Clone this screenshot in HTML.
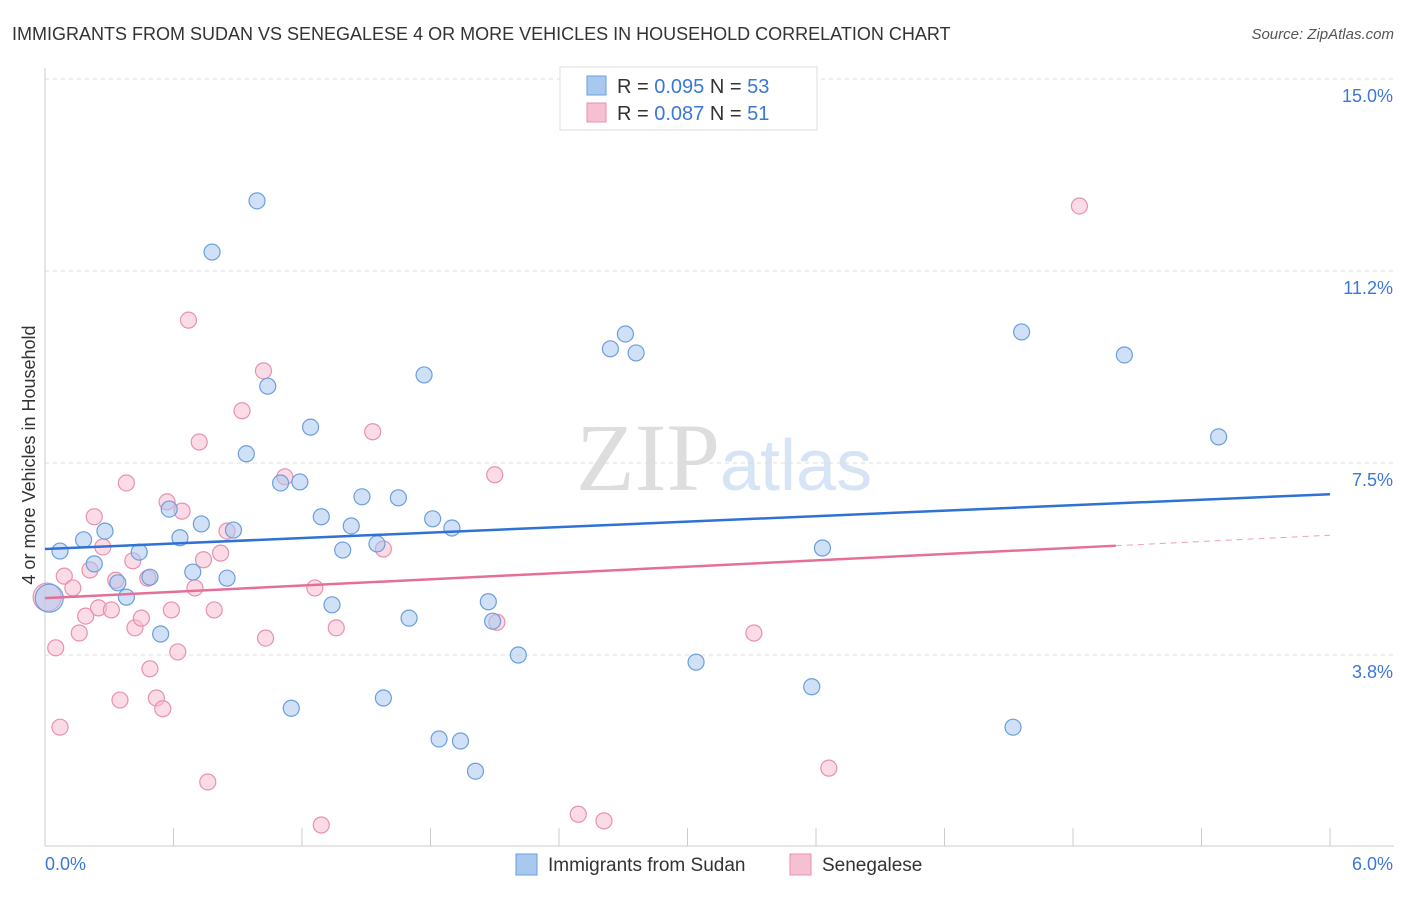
<!DOCTYPE html>
<html><head><meta charset="utf-8"><style>
body{margin:0;background:#fff;font-family:"Liberation Sans",sans-serif}
</style></head><body>
<svg width="1406" height="892" xmlns="http://www.w3.org/2000/svg">
<text x="12" y="40" font-size="18" fill="#333">IMMIGRANTS FROM SUDAN VS SENEGALESE 4 OR MORE VEHICLES IN HOUSEHOLD CORRELATION CHART</text>
<text x="1394" y="39" font-size="15" fill="#555" text-anchor="end" font-style="italic">Source: ZipAtlas.com</text>
<text x="35" y="455" font-size="18" fill="#333" text-anchor="middle" transform="rotate(-90 35 455)">4 or more Vehicles in Household</text>
<text x="720" y="490" font-size="96" fill="#ddd" text-anchor="end" font-family="Liberation Serif">ZIP</text>
<text x="720" y="490" font-size="72" fill="#d6e4f5">atlas</text>
<g id="grid"></g><g id="axes"></g><g id="pts"></g><g id="reg"></g>
<g>
<rect x="560" y="67" width="257" height="63" fill="#fff" stroke="#ddd"/>
<rect x="587" y="76" width="19" height="19" fill="#a9c8f0" stroke="#6a9fdc"/>
<rect x="587" y="103" width="19" height="19" fill="#f7c0d2" stroke="#e891ad"/>
<text x="617" y="93" font-size="20" fill="#333">R = <tspan fill="#3b78d6">0.095</tspan>    N = <tspan fill="#3b78d6">53</tspan></text>
<text x="617" y="120" font-size="20" fill="#333">R = <tspan fill="#3b78d6">0.087</tspan>    N = <tspan fill="#3b78d6"> 51</tspan></text>
</g>
<g>
<rect x="516" y="854" width="21" height="21" fill="#a9c8f0" stroke="#6a9fdc"/>
<text x="548" y="871" font-size="19" fill="#333">Immigrants from Sudan</text>
<rect x="790" y="854" width="21" height="21" fill="#f7c0d2" stroke="#e891ad"/>
<text x="822" y="871" font-size="19" fill="#333">Senegalese</text>
</g>
</svg>
<script>
const yTicks=[3.75,7.5,11.25,15];
const yTickLabels=["3.8%","7.5%","11.2%","15.0%"];
const xTicks=[0,0.6,1.2,1.8,2.4,3.0,3.6,4.2,4.8,5.4,6.0];
const blueX=[0.07,0.18,0.23,0.28,0.34,0.38,0.44,0.49,0.54,0.58,0.63,0.69,0.73,0.78,0.85,0.88,0.94,0.99,1.04,1.10,1.15,1.19,1.24,1.29,1.34,1.39,1.43,1.48,1.55,1.58,1.65,1.70,1.77,1.81,1.84,1.90,1.94,2.01,2.07,2.09,2.21,2.64,2.71,2.76,3.04,3.58,3.63,4.52,4.56,5.04,5.48,0.02];
const blueY=[5.78,6.00,5.53,6.17,5.16,4.88,5.76,5.27,4.16,6.60,6.04,5.37,6.31,11.62,5.25,6.19,7.68,12.62,9.00,7.11,2.71,7.13,8.20,6.45,4.73,5.80,6.27,6.84,5.92,2.91,6.82,4.47,9.22,6.41,2.11,6.23,2.07,1.48,4.79,4.41,3.75,9.73,10.02,9.65,3.61,3.13,5.84,2.34,10.06,9.61,8.01,4.86];
const pinkX=[0.01,0.05,0.07,0.09,0.13,0.16,0.19,0.21,0.23,0.25,0.27,0.31,0.33,0.35,0.38,0.41,0.42,0.45,0.48,0.49,0.52,0.55,0.57,0.59,0.62,0.64,0.67,0.70,0.72,0.74,0.76,0.79,0.82,0.85,0.92,1.02,1.03,1.12,1.26,1.29,1.36,1.53,1.58,2.10,2.11,2.49,2.61,3.31,3.66,4.83];
const pinkY=[4.88,3.89,2.34,5.29,5.06,4.18,4.51,5.41,6.45,4.67,5.86,4.63,5.21,2.87,7.11,5.59,4.28,4.47,5.25,3.48,2.91,2.70,6.74,4.63,3.81,6.56,10.29,5.06,7.91,5.61,1.27,4.63,5.74,6.17,8.52,9.30,4.08,7.23,5.06,0.43,4.28,8.11,5.82,7.27,4.39,0.64,0.51,4.18,1.54,12.52];
const blueReg=[5.82,6.89];
const pinkReg=[4.86,6.09];
const pinkSolidEnd=5.0;
const NS="http://www.w3.org/2000/svg";
const X=v=>45+v/6*1285, Y=v=>847-v*51.2;
function mk(t,a,p){const e=document.createElementNS(NS,t);for(const k in a)e.setAttribute(k,a[k]);document.getElementById(p).appendChild(e);return e;}
yTicks.forEach((t,i)=>{
 const g=mk('line',{x1:45,x2:1394,y1:Y(t),y2:Y(t),stroke:'#ddd','stroke-dasharray':'4,4'},'grid');
 
 
 const l=mk('text',{x:1393,y:Y(t)+23,'font-size':18,fill:'#3b78d6','text-anchor':'end'},'axes');
 l.textContent=yTickLabels[i];
 
 
});
const ax=mk('line',{x1:45,x2:1394,y1:846,y2:846,stroke:'#ccc'},'axes');


const ay=mk('line',{x1:45,x2:45,y1:68,y2:846,stroke:'#ccc'},'axes');


xTicks.forEach(t=>{const k=mk('line',{x1:X(t),x2:X(t),y1:828,y2:846,stroke:'#ccc'},'axes');
 
 });
[[0,"0.0%",'start',45],[6,"6.0%",'end',1393]].forEach(a=>{const l=mk('text',{x:a[3],y:870,'font-size':18,fill:'#3b78d6','text-anchor':a[2]},'axes');l.textContent=a[1];
 
 });
function pts(xs,ys,fill,stroke,name){xs.forEach((x,i)=>{const big=(i===xs.length-1&&name==='sudan-point')||(i===0&&name==='senegalese-point');
 const c=mk('circle',{cx:X(x),cy:Y(ys[i]),r:big?14:8,fill:fill,'fill-opacity':0.55,stroke:stroke,'stroke-width':1.2},'pts');
 
 });}
pts(pinkX,pinkY,'#f7c0d2','#e891ad','senegalese-point');
pts(blueX,blueY,'#a9c8f0','#6a9fdc','sudan-point');
const ln=(a,b,x1,x2,c,d,n)=>{const e=mk('line',{x1:X(x1),x2:X(x2),y1:Y(a+(b-a)*x1/6),y2:Y(a+(b-a)*x2/6),stroke:c,'stroke-width':d?1:2.5,'stroke-dasharray':d?'6,5':'none'},'reg');
 
 };
ln(blueReg[0],blueReg[1],0,6,'#2f72d4',false,'sudan-trendline');
ln(pinkReg[0],pinkReg[1],0,pinkSolidEnd,'#e56f9a',false,'senegalese-trendline');
ln(pinkReg[0],pinkReg[1],pinkSolidEnd,6,'#e9a0bb',true,'senegalese-trendline-extension');
</script>
</body></html>
